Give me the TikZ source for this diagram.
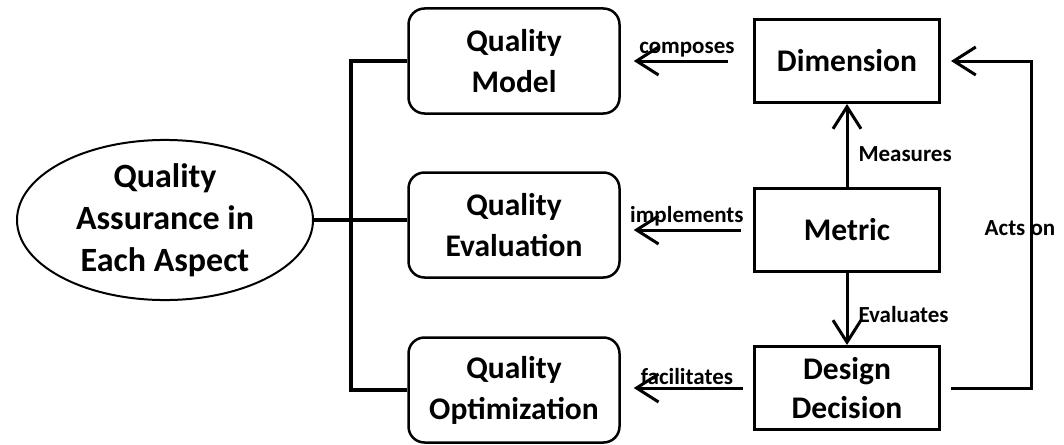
\documentclass[tikz,border=0pt]{standalone}
\usepackage{fontspec}
\setmainfont{Carlito}
\usepackage{tikz}
\usetikzlibrary{arrows,arrows.meta,positioning,calc,shapes.geometric}
\tikzstyle{aspect}=[draw,ellipse,line width=2pt,minimum width=296pt,minimum height=150pt,inner sep=0pt,align=center,font=\bfseries\fontsize{34}{42}\selectfont]
\tikzstyle{qbox}=[draw,rounded corners=16pt,line width=2.5pt,minimum width=211pt,minimum height=105pt,align=center,font=\bfseries\fontsize{31.5}{41}\selectfont]
\tikzstyle{ebox}=[draw,line width=3pt,minimum width=185pt,minimum height=83pt,align=center,font=\bfseries\fontsize{31.5}{39}\selectfont]
\tikzstyle{rel}=[line width=3pt,-{Straight Barb[length=22pt,width=28pt]}]
\tikzstyle{lbl}=[font=\bfseries\fontsize{23}{25}\selectfont,inner sep=2pt]
\tikzstyle{tree}=[line width=4pt]

\begin{document}
\begin{tikzpicture}[x=1pt,y=-1pt]
\useasboundingbox (0,0) rectangle (1064,444);
\node [aspect] (aspect) at (165,220) {Quality\\Assurance in\\Each Aspect};
\node [qbox] (model) at (514,61) {Quality\\Model};
\node [qbox] (eval) at (514,225) {Quality\\Evaluation};
\node [qbox] (opt) at (514,390) {Quality\\Optimization};
\node [ebox] (dim) at (847,61) {Dimension};
\node [ebox] (metric) at (847,230) {Metric};
\node [ebox] (design) at (847,388) {Design\\Decision};

% left bracket
\draw [tree] (aspect.east) -- (aspect.east -| eval.west);
\draw [tree] (model.west) -- ++(-56,0) |- (opt.west);

% relations
\draw [rel,shorten <=25pt,shorten >=13pt] (dim.west) -- (model.east)
  node [lbl,above,midway] {composes};
\draw [rel,shorten <=12pt,shorten >=13pt] (metric.west) -- (metric.west -| eval.east)
  node [lbl,above,midway] {implements};
\draw [rel,shorten <=10pt,shorten >=13pt] (design.west) -- (design.west -| opt.east)
  node [lbl,above,midway] {facilitates};
\draw [rel] (metric.north) -- (dim.south)
  node [lbl,right,pos=0.4,xshift=8pt] {Measures};
\draw [rel] (metric.south) -- (design.north)
  node [lbl,right,pos=0.58,xshift=8pt] {Evaluates};
\draw [rel] ([xshift=10pt]design.east) -- ++(80,0) coordinate (corner) |- ([xshift=10pt]dim.east);
\node [lbl,xshift=-11pt,yshift=-4pt] (actson) at ($(corner)!0.5!(corner |- dim.east)$) {Acts on};
\end{tikzpicture}
\end{document}
